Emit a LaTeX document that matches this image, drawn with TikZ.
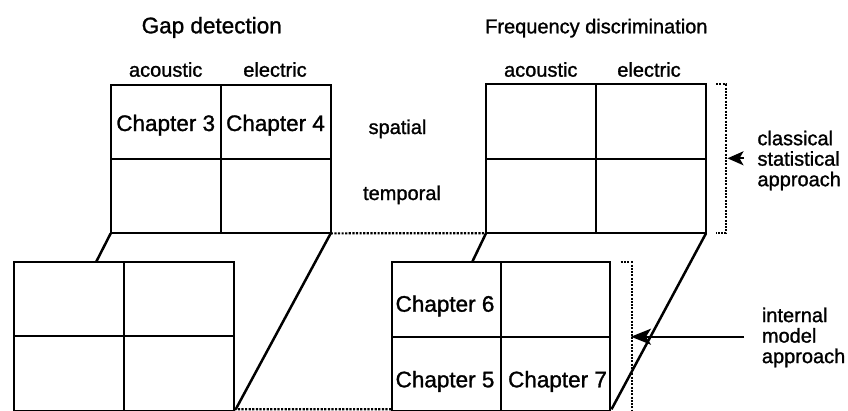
\documentclass[tikz,border=0pt]{standalone}
\usepackage{fontspec}
\setmainfont{Liberation Sans}[FakeBold=1.2]
\usetikzlibrary{arrows.meta,calc}
\begin{document}
\begin{tikzpicture}[x=1pt,y=-1pt,
  grid/.style={draw,line width=2.2pt,inner sep=0pt,outer sep=0pt,minimum width=220pt},
  inner/.style={line width=2.2pt},
  conn/.style={line width=2.5pt},
  dotline/.style={line width=2.2pt,dash pattern=on 2.2pt off 1.4pt},
  bracket/.style={line width=2.2pt,dash pattern=on 2pt off 1.3pt},
  pointer/.style={line width=2.2pt,-{Stealth[length=16pt,width=14pt,inset=4pt]}},
  bigpointer/.style={line width=2.2pt,-{Stealth[length=20pt,width=16pt,inset=5pt]}},
  lbl/.style={inner sep=0pt,anchor=base,font=\fontsize{20}{24}\selectfont},
  chap/.style={inner sep=0pt,anchor=base,font=\fontsize{22.5}{26}\selectfont},
  side/.style={inner sep=0pt,anchor=north west,align=left,font=\fontsize{20}{20.5}\selectfont}]
\useasboundingbox (0,0) rectangle (848,410);

% grids
\node[grid,minimum height=148.3pt] (gA) at (220.7,159.2) {};
\node[grid,minimum height=149.3pt] (gB) at (124.2,336.35) {};
\node[grid,minimum height=149pt] (gC) at (596,158.8) {};
\node[grid,minimum width=218.3pt,minimum height=148.7pt] (gD) at (500.85,336.65) {};
\foreach \g in {gA,gB,gC,gD}{
  \draw[inner] (\g.north) -- (\g.south);
  \draw[inner] (\g.west) -- (\g.east);
}

% titles
\node[inner sep=0pt,anchor=base west,font=\fontsize{22.5}{26}\selectfont] (t1) at (141.5,33.3) {Gap detection};
\node[inner sep=0pt,anchor=base west,font=\fontsize{20}{24}\selectfont] (t2) at (485,33.3) {Frequency discrimination};

% column labels
\node[lbl] (a1) at (165.7,76.7) {acoustic};
\node[lbl] (e1) at (275,76.7) {electric};
\node[lbl] (a2) at (540.8,76.7) {acoustic};
\node[lbl] (e2) at (649,76.7) {electric};

% row labels
\node[lbl] (sp) at (397.5,134) {spatial};
\node[lbl] (tp) at (402,200) {temporal};

% chapters
\node[chap] (c3) at (165.7,131) {Chapter 3};
\node[chap] (c4) at (275.5,131) {Chapter 4};
\node[chap] (c6) at (445,311.7) {Chapter 6};
\node[chap] (c5) at (445,387.3) {Chapter 5};
\node[chap] (c7) at (557.5,387.3) {Chapter 7};

% connectors between grids
\coordinate (bTop) at ($(gB.north west)!0.373!(gB.north east)$);
\coordinate (dTop) at ($(gD.north west)!0.368!(gD.north east)$);
\draw[conn] (gA.south west) -- (bTop);
\draw[conn] (gA.south east) -- ($(gB.south east)+(1.5,-1.7)$);
\draw[conn] (gC.south west) -- (dTop);
\draw[conn] (gC.south east) -- ($(gD.south east)+(1.5,-1.7)$);
\draw[dotline] (gA.south east) -- (gC.south west);
\draw[dotline] ($(gB.south east)+(0,-1.7)$) -- ($(gD.south west)+(0,-1.7)$);

% brackets
\draw[bracket] ($(gC.north east)+(10,0)$) -- ($(gC.north east)+(20,0)$) -- ($(gC.south east)+(20,-0.5)$) -- ($(gC.south east)+(10,-0.5)$);
\draw[bracket] ($(gD.north east)+(10.7,0)$) -- ($(gD.north east)+(21.7,0)$) -- ($(gD.south east)+(21.7,2)$);

% side labels
\node[side] (cls) at (757.3,130.5) {classical\\statistical\\approach};
\node[side] (imd) at (761.7,307.4) {internal\\model\\approach};

% pointers
\coordinate (p1s) at (744,158.3);
\coordinate (p1e) at (727.5,158.3);
\coordinate (p2s) at (744,336.7);
\coordinate (p2e) at (631,336.7);
\draw[pointer] (p1s) -- (p1e);
\draw[bigpointer] (p2s) -- (p2e);
\end{tikzpicture}
\end{document}
